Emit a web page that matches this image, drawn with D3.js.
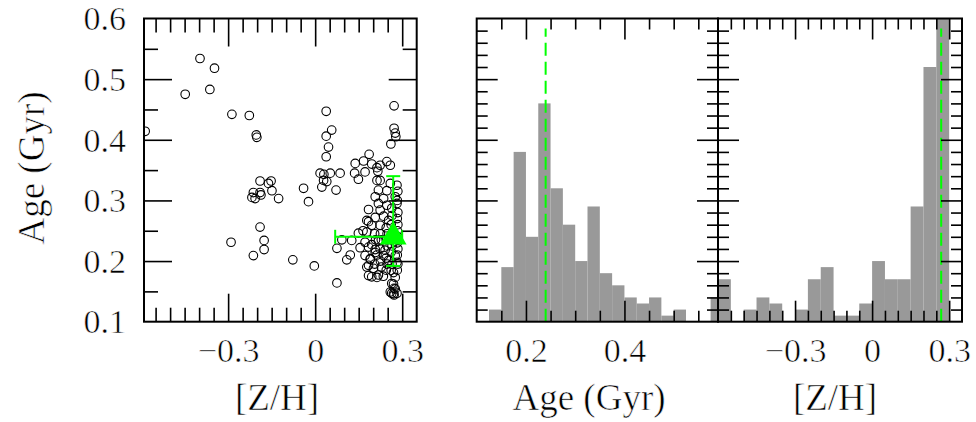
<!DOCTYPE html>
<html><head><meta charset="utf-8">
<script src="https://cdn.jsdelivr.net/npm/d3@7"></script>
<style>
body{margin:0;background:#fff}
svg{display:block}
text{font-family:"Liberation Serif","Times New Roman",serif;fill:#000;stroke:#fff;stroke-width:0.6px}
</style>
</head><body>
<svg id="c" width="976" height="422"></svg>
<script>
// ---------------- DATA ----------------
const scatterZH = [
 -0.586,-0.397,-0.347,-0.448,-0.363,-0.287,-0.227,-0.203,-0.201,
 0.038,0.272,0.272,0.057,0.038,0.276,0.278,0.046,0.261,0.038,0.186,
 0.138,0.167,0.195,0.213,0.247,0.259,0.136,0.149,0.172,0.216,
 0.052,0.086,0.040,0.072,0.224,0.259,0.282,0.218,0.247,0.207,
 0.236,0.276,0.218,0.247,0.184,0.224,0.264,0.282,0.178,0.207,
 0.236,0.253,0.195,0.224,
 -0.190,-0.161,-0.152,-0.213,-0.190,-0.149,-0.218,-0.207,-0.187,-0.126,
 -0.190,-0.290,-0.176,-0.176,-0.213,
 0.017,0.030,0.029,0.023,-0.040,-0.023,0.184,0.178,0.149,0.126,
 0.092,0.075,0.121,0.109,-0.077,-0.003,0.075,0.264,0.272,0.264,
 0.272,0.218,0.195,0.178,0.190,0.213,0.241,
 0.172,0.184,0.172,0.190,0.184,0.201,0.184,0.213,0.207,0.224,
 0.236,0.253,0.276,0.282,0.270,0.276,0.270,0.276,0.259,0.270,
 0.195,0.207,0.218,
 0.285,0.283,0.285,0.283,0.285,0.283,0.285,0.283,0.285,0.283,
 0.285,0.283,0.265,0.262,0.265,0.262,0.265,0.262,0.265,0.262,
 0.245,0.248,0.245,0.248,0.245,0.248,0.245,0.225,0.228,0.225,
 0.228,0.205,0.208,0.205,0.235,0.165,0.282,0.224,0.213,0.155
];
const scatterAge = [
 0.414,0.534,0.518,0.475,0.483,0.442,0.440,0.408,0.404,
 0.447,0.456,0.419,0.416,0.406,0.411,0.405,0.388,0.393,0.372,0.376,
 0.361,0.365,0.360,0.354,0.364,0.358,0.345,0.335,0.347,0.348,
 0.345,0.345,0.331,0.317,0.333,0.328,0.325,0.317,0.316,0.306,
 0.303,0.306,0.295,0.292,0.285,0.284,0.287,0.295,0.267,0.272,
 0.274,0.267,0.259,0.259,
 0.332,0.328,0.332,0.313,0.313,0.316,0.305,0.303,0.309,0.303,
 0.256,0.231,0.234,0.219,0.209,
 0.345,0.343,0.333,0.322,0.320,0.298,0.265,0.248,0.246,0.234,
 0.235,0.221,0.210,0.202,0.202,0.192,0.164,0.147,0.144,0.163,
 0.155,0.177,0.174,0.190,0.204,0.210,0.218,
 0.231,0.223,0.209,0.203,0.193,0.188,0.176,0.173,0.214,0.220,
 0.209,0.201,0.209,0.198,0.181,0.173,0.162,0.154,0.149,0.146,
 0.227,0.219,0.233,
 0.315,0.300,0.280,0.270,0.260,0.250,0.240,0.230,0.220,0.210,
 0.195,0.185,0.275,0.260,0.245,0.235,0.225,0.215,0.195,0.185,
 0.255,0.245,0.235,0.225,0.205,0.195,0.185,0.245,0.235,0.200,
 0.190,0.245,0.235,0.195,0.175,0.250,0.147,0.358,0.333,0.222
];
const meanZH = 0.269, meanAge = 0.240;
const errZH = [0.069, 0.300];
const errAge = [0.192, 0.340];

// Age histogram (bin left edges, width 0.025)
const ageBinEdges = [0.125,0.150,0.175,0.200,0.225,0.250,0.275,0.300,0.325,0.350,
                     0.375,0.400,0.425,0.450,0.475,0.500,0.525,0.550,0.575];
const ageCounts   = [1,4.5,14,7,18,11,8,5,9.5,4,3,2,1.5,2,0.5,1,0,0,2];
const ageBinWidth = 0.025;

// [Z/H] histogram (bin left edges, width 0.05)
const zhBinEdges = [-0.60,-0.55,-0.50,-0.45,-0.40,-0.35,-0.30,-0.25,-0.20,-0.15,
                    -0.10,-0.05,0.00,0.05,0.10,0.15,0.20,0.25,0.30];
const zhCounts   = [3.5,0,1,2,1.5,0,1,3.5,4.5,0.5,0.5,1.5,5,3.5,3.5,9.5,21,25,0];
const zhBinWidth = 0.05;

// tick labels
const zhTickValues = [-0.3, 0, 0.3];
const zhTickLabels = ["\u22120.3", "0", "0.3"];
const ageTickValues = [0.1, 0.2, 0.3, 0.4, 0.5, 0.6];
const ageTickLabels = ["0.1", "0.2", "0.3", "0.4", "0.5", "0.6"];
const ageHistTickValues = [0.2, 0.4];
const ageHistTickLabels = ["0.2", "0.4"];

// ---------------- LAYOUT ----------------
const svg = d3.select("#c");
const yTop = 18.5, yBot = 321.7;
const P1 = {x0:144, x1:416.7}, P2 = {x0:476.7, x1:718}, P3 = {x0:718, x1:962};
const GREEN = "#00ff00";
const TF = '"Liberation Serif",serif';

const xZH1 = d3.scaleLinear().domain([-0.59, 0.35]).range([P1.x0, P1.x1]);
const yAge = d3.scaleLinear().domain([0.1, 0.6]).range([yBot, yTop]);
const xAge = d3.scaleLinear().domain([0.1, 0.59]).range([P2.x0, P2.x1]);
const xZH3 = d3.scaleLinear().domain([-0.6, 0.35]).range([P3.x0, P3.x1]);
const yCnt = d3.scaleLinear().domain([0, 25]).range([yBot, yTop]);

function clip(id, P){
  svg.append("clipPath").attr("id", id).append("rect")
    .attr("x", P.x0).attr("y", yTop).attr("width", P.x1 - P.x0).attr("height", yBot - yTop);
}
clip("c1", P1); clip("c2", P2); clip("c3", P3);

function ticks(P, xs, ys, xMinor, xMajor, yMinor, yMajor, L){
  const g = svg.append("g");
  const defs = [
    [d3.axisBottom, xs, xMinor, L.xm, `translate(0,${yBot})`],
    [d3.axisBottom, xs, xMajor, L.xM, `translate(0,${yBot})`],
    [d3.axisTop, xs, xMinor, L.xm, `translate(0,${yTop})`],
    [d3.axisTop, xs, xMajor, L.xM, `translate(0,${yTop})`],
    [d3.axisLeft, ys, yMinor, L.ym, `translate(${P.x0},0)`],
    [d3.axisLeft, ys, yMajor, L.yM, `translate(${P.x0},0)`],
    [d3.axisRight, ys, yMinor, L.ym, `translate(${P.x1},0)`],
    [d3.axisRight, ys, yMajor, L.yM, `translate(${P.x1},0)`]
  ];
  defs.forEach(([fn, sc, vals, len, tr]) => {
    const a = g.append("g").attr("transform", tr)
      .call(fn(sc).tickValues(vals).tickSize(-len).tickFormat(""));
    a.select(".domain").remove();
    a.selectAll("line").attr("stroke", "#000").attr("stroke-width", 1.6);
  });
  svg.append("rect").attr("x", P.x0).attr("y", yTop)
    .attr("width", P.x1 - P.x0).attr("height", yBot - yTop)
    .attr("fill", "none").attr("stroke", "#000").attr("stroke-width", 2);
}

function xLabels(sc, vals, labels){
  const a = svg.append("g").attr("transform", `translate(0,${yBot})`)
    .call(d3.axisBottom(sc).tickValues(vals).tickSize(0).tickPadding(0)
      .tickFormat((d,i) => labels[i]));
  a.select(".domain").remove();
  a.selectAll("text").attr("y", 40).attr("dy", 0)
    .attr("font-size", 34).attr("font-family", TF).attr("fill", "#000");
}

// ---------- Panel 1: scatter ----------
const pts = scatterZH.map((z, i) => [z, scatterAge[i]]);
svg.append("g").attr("clip-path", "url(#c1)")
  .selectAll("circle").data(pts).join("circle")
  .attr("cx", d => xZH1(d[0])).attr("cy", d => yAge(d[1])).attr("r", 4.3)
  .attr("fill", "none").attr("stroke", "#000").attr("stroke-width", 1.1);

const eg = svg.append("g").attr("stroke", GREEN).attr("stroke-width", 2);
eg.append("line").attr("x1", xZH1(errZH[0])).attr("x2", xZH1(errZH[1]))
  .attr("y1", yAge(meanAge)).attr("y2", yAge(meanAge));
errZH.forEach(v => eg.append("line").attr("x1", xZH1(v)).attr("x2", xZH1(v))
  .attr("y1", yAge(meanAge) - 7).attr("y2", yAge(meanAge) + 7));
eg.append("line").attr("x1", xZH1(meanZH)).attr("x2", xZH1(meanZH))
  .attr("y1", yAge(errAge[0])).attr("y2", yAge(errAge[1]));
errAge.forEach(v => eg.append("line").attr("y1", yAge(v)).attr("y2", yAge(v))
  .attr("x1", xZH1(meanZH) - 7).attr("x2", xZH1(meanZH) + 7));
svg.append("path").attr("d", d3.symbol(d3.symbolTriangle).size(310)())
  .attr("transform", `translate(${xZH1(meanZH)},${yAge(meanAge)})`)
  .attr("fill", GREEN);

const zhMinor = d3.range(-11, 7).map(i => +(i * 0.05).toFixed(2)).filter(v => !zhTickValues.includes(v));
const ageMinor = [0.15, 0.25, 0.35, 0.45, 0.55];
ticks(P1, xZH1, yAge, zhMinor, zhTickValues, ageMinor, ageTickValues.slice(1, 5),
  {xm:14, xM:28, ym:14, yM:28});
xLabels(xZH1, zhTickValues, zhTickLabels);
const yl = svg.append("g").attr("transform", `translate(${P1.x0},0)`)
  .call(d3.axisLeft(yAge).tickValues(ageTickValues).tickSize(0).tickPadding(18)
    .tickFormat((d,i) => ageTickLabels[i]));
yl.select(".domain").remove();
yl.selectAll("text").attr("font-size", 34).attr("font-family", TF)
  .attr("fill", "#000").attr("dy", "0.33em");

// ---------- Panel 2: age histogram ----------
svg.append("g").attr("clip-path", "url(#c2)")
  .selectAll("rect").data(ageBinEdges.map((e,i) => [e, ageCounts[i]])).join("rect")
  .attr("x", d => xAge(d[0])).attr("width", d => xAge(d[0] + ageBinWidth) - xAge(d[0]))
  .attr("y", d => yCnt(d[1])).attr("height", d => yCnt(0) - yCnt(d[1]))
  .attr("fill", "#999999");
svg.append("line").attr("x1", xAge(meanAge)).attr("x2", xAge(meanAge))
  .attr("y1", yBot).attr("y2", yTop + 10).attr("stroke", GREEN).attr("stroke-width", 2)
  .attr("stroke-dasharray", "13,6");
const ageMinor2 = d3.range(3, 12).map(i => +(i * 0.05).toFixed(2)).filter(v => !ageHistTickValues.includes(v));
const cntMinor = d3.range(1, 25).filter(i => i % 5 !== 0);
const cntMajor = [5, 10, 15, 20];
ticks(P2, xAge, yCnt, ageMinor2, ageHistTickValues, cntMinor, cntMajor,
  {xm:11, xM:21, ym:11, yM:21});
xLabels(xAge, ageHistTickValues, ageHistTickLabels);

// ---------- Panel 3: [Z/H] histogram ----------
svg.append("g").attr("clip-path", "url(#c3)")
  .selectAll("rect").data(zhBinEdges.map((e,i) => [e, zhCounts[i]])).join("rect")
  .attr("x", d => xZH3(d[0])).attr("width", d => xZH3(d[0] + zhBinWidth) - xZH3(d[0]))
  .attr("y", d => yCnt(d[1])).attr("height", d => yCnt(0) - yCnt(d[1]))
  .attr("fill", "#999999");
svg.append("line").attr("x1", xZH3(meanZH)).attr("x2", xZH3(meanZH))
  .attr("y1", yBot).attr("y2", yTop + 10).attr("stroke", GREEN).attr("stroke-width", 2)
  .attr("stroke-dasharray", "13,6");
ticks(P3, xZH3, yCnt, zhMinor, zhTickValues, cntMinor, cntMajor,
  {xm:11, xM:21, ym:11, yM:21});
xLabels(xZH3, zhTickValues, zhTickLabels);

// ---------- Axis titles ----------
svg.append("text").attr("transform", "translate(44,168) rotate(-90)")
  .attr("text-anchor", "middle").attr("font-size", 37).attr("font-family", TF).text("Age (Gyr)");
svg.append("text").attr("x", 277).attr("y", 410).attr("text-anchor", "middle")
  .attr("font-size", 37).attr("font-family", TF).text("[Z/H]");
svg.append("text").attr("x", 589).attr("y", 410).attr("text-anchor", "middle")
  .attr("font-size", 37).attr("font-family", TF).text("Age (Gyr)");
svg.append("text").attr("x", 835).attr("y", 410).attr("text-anchor", "middle")
  .attr("font-size", 37).attr("font-family", TF).text("[Z/H]");
</script>
</body></html>
